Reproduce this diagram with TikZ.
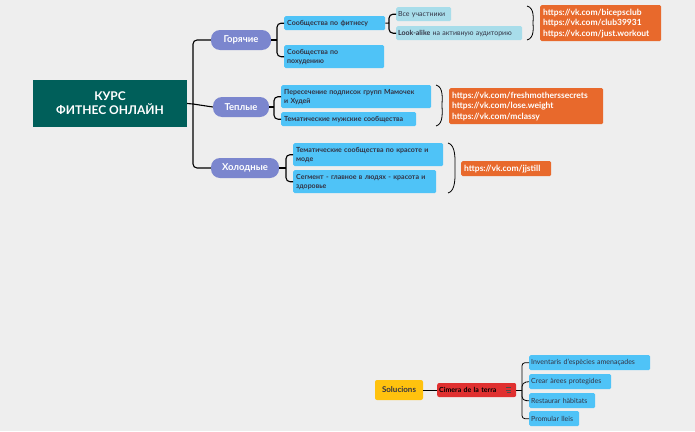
\documentclass[tikz,border=0pt]{standalone}
\usepackage{fontspec}
\setmainfont{Lato}
\usetikzlibrary{decorations.pathreplacing,calc}
\definecolor{bg}{HTML}{EEEEEE}
\definecolor{teal}{HTML}{005F5A}
\definecolor{pill}{HTML}{7B86CE}
\definecolor{sky}{HTML}{4FC3F7}
\definecolor{pale}{HTML}{A8DDEA}
\definecolor{org}{HTML}{E8692C}
\definecolor{yel}{HTML}{FFC20E}
\definecolor{redd}{HTML}{E03030}
\definecolor{txt}{HTML}{333344}
\begin{document}
\begin{tikzpicture}[x=1pt,y=-1pt,
 box/.style={fill=sky,rounded corners=1.5pt,anchor=north west,inner sep=0pt,font=\fontsize{7}{9}\selectfont\bfseries,text=txt,align=left},
 pbox/.style={box,fill=pale,font=\fontsize{7}{9}\selectfont},
 pl/.style={fill=pill,rounded corners=9pt,text=white,font=\fontsize{9.5}{11}\selectfont\bfseries,minimum height=20pt,inner sep=0pt},
 ob/.style={fill=org,rounded corners=1.5pt,anchor=north west,text=white,font=\fontsize{8.5}{10.5}\selectfont\bfseries,align=left,inner sep=0pt},
 ln/.style={draw=black,line width=1.1pt,rounded corners=4pt},
 br/.style={draw=black,line width=0.8pt}]
\fill[bg] (0,0) rectangle (695,431);
\useasboundingbox (0,0) rectangle (695,431);
% main
\node[fill=teal,text=white,font=\fontsize{12}{14}\selectfont\bfseries,align=center,minimum width=154pt,minimum height=47pt,inner sep=0pt] (m) at (110,103.5) {КУРС\\ФИТНЕС ОНЛАЙН};
\node[pl,minimum width=60pt] (h) at (241,40) {Горячие};
\node[pl,minimum width=56pt] (w) at (241,107) {Теплые};
\node[pl,minimum width=68pt] (c) at (245,168) {Холодные};
\coordinate (t) at (193,104);
\draw[ln] (m.east) -- (t);
\draw[ln] (h.west) -| (t) |- (c.west);
\draw[ln] (t) -- (w.west);
% hot
\node[box,minimum width=99pt,minimum height=14pt,text width=95pt,inner xsep=3pt] (h1) at (284,16) {Сообщества по фитнесу};
\node[box,minimum width=98pt,minimum height=23pt,text width=94pt,inner xsep=3pt] (h2) at (284,45) {Сообщества по\\похудению};
\coordinate (hj) at (277,40);
\draw[ln] (h.east) -- (hj);
\draw[ln] (h1.west) -| (hj) |- (h2.west);
\node[pbox,minimum width=53pt,minimum height=14pt,text width=51pt,inner xsep=2pt] (a1) at (396,7) {Все участники};
\node[pbox,minimum width=124pt,minimum height=14pt,text width=122pt,inner xsep=2pt] (a2) at (396,26) {\textbf{Look-alike} на активную аудиторию};
\coordinate (aj) at (389,23);
\draw[ln] (h1.east) -- (aj);
\draw[ln] (a1.west) -| (aj) |- (a2.west);
\draw[br] (527,6) .. controls (535,8) and (533,20) .. (533,23) .. controls (533,26) and (535,38) .. (527,40);
\node[ob,minimum width=121pt,minimum height=36pt,text width=115pt,inner xsep=3pt] (o1) at (540,5) {https://vk.com/bicepsclub\\https://vk.com/club39931\\https://vk.com/just.workout};
% warm
\node[box,minimum width=148pt,minimum height=23pt,text width=144pt,inner xsep=3pt] (w1) at (281,85) {Пересечение подписок групп Мамочек\\и Худей};
\node[box,minimum width=133pt,minimum height=14pt,text width=129pt,inner xsep=3pt] (w2) at (281,112) {Тематические мужские сообщества};
\coordinate (wj) at (274,107);
\draw[ln] (w.east) -- (wj);
\draw[ln] (w1.west) -| (wj) |- (w2.west);
\draw[br] (436,85) .. controls (444,87) and (442,100) .. (442,105) .. controls (442,110) and (444,124) .. (436,126);
\node[ob,minimum width=154pt,minimum height=36pt,text width=148pt,inner xsep=3pt] (o2) at (449,88) {https://vk.com/freshmotherssecrets\\https://vk.com/lose.weight\\https://vk.com/mclassy};
% cold
\node[box,minimum width=148pt,minimum height=23pt,text width=144pt,inner xsep=3pt] (c1) at (293,143) {Тематические сообщества по красоте и\\моде};
\node[box,minimum width=141pt,minimum height=23pt,text width=137pt,inner xsep=3pt] (c2) at (293,170) {Сегмент - главное в людях - красота и\\здоровье};
\coordinate (cj) at (286,168);
\draw[ln] (c.east) -- (cj);
\draw[ln] (c1.west) -| (cj) |- (c2.west);
\draw[br] (448,143) .. controls (456,145) and (455,160) .. (455,168) .. controls (455,176) and (456,191) .. (448,193);
\node[ob,minimum width=90pt,minimum height=15pt,text width=84pt,inner xsep=3pt] (o3) at (461,161) {https://vk.com/jjstill};
% bottom
\node[fill=yel,rounded corners=2pt,minimum width=48pt,minimum height=20pt,inner sep=0pt,font=\fontsize{8}{9}\selectfont\bfseries,text=txt] (s) at (399,390) {Solucions};
\node[fill=redd,rounded corners=2pt,anchor=west,minimum width=79pt,minimum height=14pt,inner sep=0pt,text width=75pt,inner xsep=2pt,font=\fontsize{7}{8}\selectfont\bfseries,text=black,align=left] (r) at (437,390) {Cimera de la terra};
\draw[black!70,line width=0.4pt] (506,387.5) -- (511,387.5) (506,390) -- (511,390) (507,392.5) -- (511,392.5);
\draw[ln,line width=0.8pt] (s.east) -- (r.west);
\node[box,font=\fontsize{7}{8}\selectfont,minimum width=119pt,minimum height=15pt,text width=117pt,inner xsep=2pt] (b1) at (529,355) {Inventaris d'espècies amenaçades};
\node[box,font=\fontsize{7}{8}\selectfont,minimum width=80pt,minimum height=15pt,text width=78pt,inner xsep=2pt] (b2) at (529,374) {Crear àrees protegides};
\node[box,font=\fontsize{7}{8}\selectfont,minimum width=64pt,minimum height=15pt,text width=62pt,inner xsep=2pt] (b3) at (529,393) {Restaurar hàbitats};
\node[box,font=\fontsize{7}{8}\selectfont,minimum width=48pt,minimum height=15pt,text width=46pt,inner xsep=2pt] (b4) at (529,411) {Promular lleis};
\coordinate (bj) at (522,390);
\draw[ln,line width=0.8pt,rounded corners=3pt] (r.east) -- (bj);
\draw[ln,line width=0.8pt,rounded corners=3pt] (b1.west) -| (bj) |- (b4.west);
\draw[ln,line width=0.8pt] (bj) -- ++(0,-7.5) -- (b2.west);
\draw[ln,line width=0.8pt] (bj) -- ++(0,10.5) -- (b3.west);
\end{tikzpicture}
\end{document}
